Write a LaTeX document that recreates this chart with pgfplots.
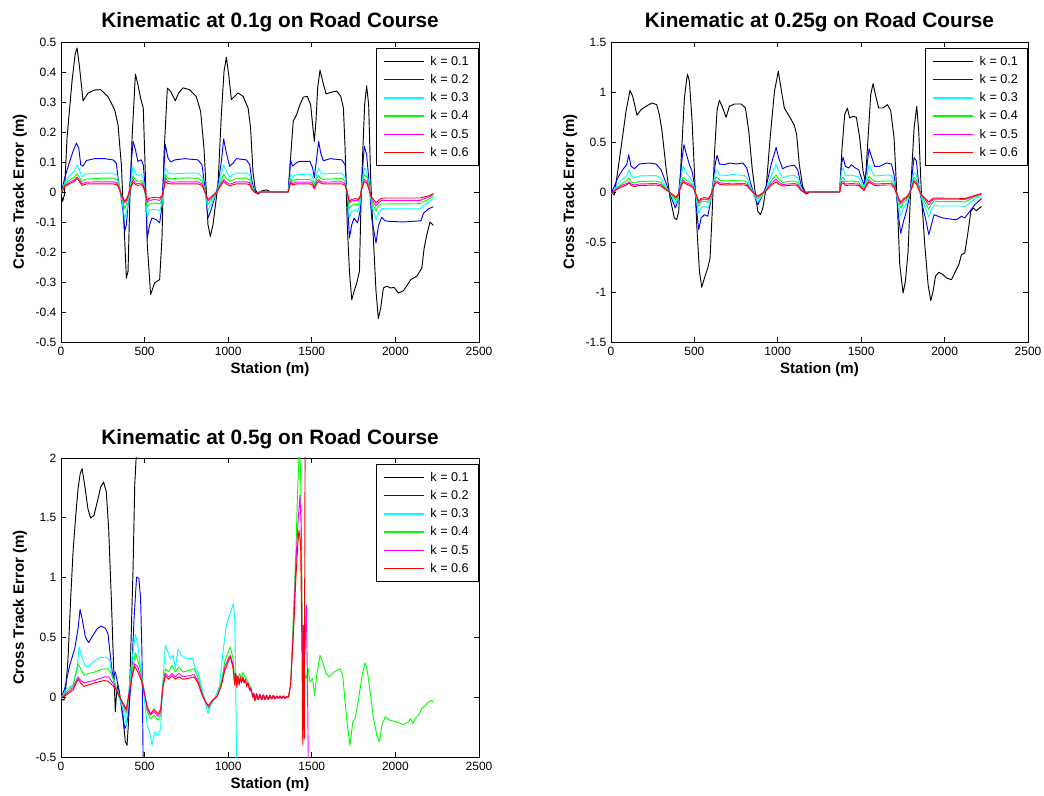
\documentclass[border=0pt]{standalone}
\usepackage{fontspec}
\setmainfont{Liberation Sans}
\usepackage{pgfplots}
\pgfplotsset{compat=1.18}

\definecolor{mblue}{rgb}{0,0,1}
\definecolor{mcyan}{rgb}{0,1,1}
\definecolor{mgreen}{rgb}{0,1,0}
\definecolor{mmag}{rgb}{1,0,1}
\definecolor{mred}{rgb}{1,0,0}

\pgfplotsset{
  mlab/.style={
    scale only axis,
    xmin=0, xmax=2500,
    xtick={0,500,1000,1500,2000,2500},
    xticklabels={0,500,1000,1500,2000,2500},
    tick align=inside,
    major tick length=3.5pt,
    axis line style={line width=0.6pt},
    every tick/.style={black, line width=0.6pt},
    tick label style={font=\fontsize{9}{10}\selectfont},
    scaled ticks=false,
    xlabel={Station (m)},
    ylabel={Cross Track Error (m)},
    every axis x label/.style={at={(axis description cs:0.5,-0.093)}, anchor=center,
      font=\bfseries\fontsize{11.3}{13}\selectfont},
    every axis y label/.style={at={(axis description cs:-0.098,0.5)}, rotate=90, anchor=center,
      font=\bfseries\fontsize{11.3}{13}\selectfont},
    every axis title/.style={at={(axis description cs:0.5,1)}, anchor=base, yshift=10.5pt,
      font=\bfseries\fontsize{15.6}{17}\selectfont},
    legend cell align=left,
    legend image code/.code={\draw[#1,line width=1.1pt] (0pt,0pt) -- (30pt,0pt);},
    legend style={at={(axis description cs:0.7536,0.979)}, anchor=north west,
      font=\fontsize{9.5}{10}\selectfont,
      inner xsep=5pt, inner ysep=3.5pt,
      row sep=1.3pt, column sep=2.5pt},
    every axis plot/.append style={line width=0.7pt, line join=round},
  }
}

\begin{document}
\begin{tikzpicture}
\useasboundingbox (0,0) rectangle (783pt,596.25pt);

% ---------------- 0.1g ----------------
\begin{axis}[mlab, at={(45.75pt,339.75pt)}, anchor=south west,
  width=313.5pt, height=225pt,
  ymin=-0.5, ymax=0.5,
  ytick={-0.5,-0.4,-0.3,-0.2,-0.1,0,0.1,0.2,0.3,0.4,0.5},
  yticklabels={-0.5,-0.4,-0.3,-0.2,-0.1,0,0.1,0.2,0.3,0.4,0.5},
  title={Kinematic at 0.1g on Road Course}]
\addplot[color=black] coordinates {(0,-0.005)(10,-0.031)(20,-0.01)(36,0.18)(66,0.37)(85,0.46)(96,0.48)(110,0.42)(132,0.304)(162,0.33)(201,0.34)(237,0.341)(281,0.318)(321,0.274)(341,0.224)(361,0.091)(377,-0.109)(391,-0.287)(401,-0.264)(411,-0.042)(425,0.18)(445,0.393)(460,0.358)(476,0.313)(492,0.28)(504,0.069)(516,-0.175)(536,-0.342)(560,-0.303)(590,-0.292)(604,-0.153)(616,0.124)(636,0.346)(656,0.335)(684,0.304)(703,0.33)(730,0.347)(769,0.341)(809,0.318)(835,0.269)(855,0.147)(869,0.002)(879,-0.109)(893,-0.148)(909,-0.109)(939,0.024)(959,0.258)(975,0.402)(989,0.449)(1003,0.391)(1019,0.308)(1039,0.319)(1059,0.33)(1089,0.319)(1119,0.28)(1134,0.213)(1148,0.069)(1162,0.008)(1178,-0.007)(1202,0.004)(1228,0.007)(1258,0)(1359,0)(1373,0.113)(1389,0.236)(1409,0.258)(1429,0.291)(1449,0.316)(1473,0.319)(1493,0.291)(1505,0.224)(1515,0.169)(1525,0.236)(1535,0.347)(1549,0.406)(1565,0.369)(1585,0.327)(1619,0.333)(1649,0.336)(1673,0.319)(1689,0.28)(1699,0.147)(1712,-0.109)(1725,-0.264)(1739,-0.359)(1753,-0.331)(1769,-0.303)(1785,-0.264)(1794,-0.042)(1804,0.124)(1816,0.291)(1828,0.354)(1840,0.291)(1852,0.047)(1868,-0.153)(1884,-0.331)(1898,-0.422)(1912,-0.387)(1928,-0.32)(1948,-0.314)(1972,-0.32)(1992,-0.318)(2018,-0.337)(2048,-0.329)(2072,-0.309)(2092,-0.292)(2128,-0.281)(2158,-0.253)(2172,-0.187)(2188,-0.142)(2207,-0.1)(2227,-0.111)};
\addlegendentry{k = 0.1}
\addplot[color=mblue] coordinates {(0,-0.005)(22,0.047)(52,0.102)(72,0.136)(92,0.163)(106,0.147)(118,0.091)(132,0.086)(152,0.105)(201,0.111)(261,0.111)(311,0.107)(331,0.096)(341,0.047)(357,-0.009)(371,-0.064)(381,-0.131)(391,-0.109)(401,-0.042)(411,0.024)(421,0.102)(431,0.169)(445,0.141)(460,0.102)(480,0.107)(492,0.091)(504,0.013)(516,-0.153)(530,-0.109)(544,-0.087)(570,-0.092)(590,-0.103)(600,-0.064)(612,0.047)(624,0.158)(640,0.113)(656,0.1)(680,0.107)(740,0.111)(819,0.107)(843,0.091)(859,0.024)(869,-0.031)(879,-0.087)(895,-0.064)(919,-0.02)(939,0.024)(959,0.102)(973,0.177)(989,0.13)(1009,0.086)(1029,0.096)(1049,0.111)(1109,0.107)(1129,0.091)(1142,0.036)(1158,0.002)(1178,-0.004)(1195,0)(1359,0)(1373,0.107)(1385,0.086)(1405,0.096)(1425,0.102)(1489,0.102)(1505,0.08)(1515,0.047)(1529,0.113)(1541,0.169)(1553,0.13)(1569,0.104)(1609,0.111)(1679,0.107)(1699,0.091)(1712,-0.02)(1725,-0.153)(1739,-0.109)(1753,-0.087)(1773,-0.103)(1789,-0.064)(1800,0.047)(1814,0.153)(1828,0.124)(1844,0.024)(1858,-0.087)(1884,-0.17)(1898,-0.114)(1918,-0.084)(1938,-0.096)(1968,-0.098)(2048,-0.1)(2152,-0.096)(2168,-0.071)(2198,-0.056)(2227,-0.049)};
\addlegendentry{k = 0.2}
\addplot[color=mcyan] coordinates {(0,-0.005)(22,0.03)(52,0.055)(80,0.07)(96,0.09)(110,0.075)(125,0.05)(150,0.06)(250,0.063)(310,0.063)(335,0.055)(350,0.02)(365,-0.03)(381,-0.09)(395,-0.06)(411,0.01)(431,0.085)(445,0.06)(460,0.055)(480,0.058)(492,0.045)(504,-0.01)(516,-0.085)(530,-0.06)(560,-0.058)(590,-0.062)(604,-0.04)(616,0.03)(624,0.08)(640,0.065)(660,0.06)(760,0.063)(820,0.063)(843,0.05)(859,0.01)(879,-0.06)(895,-0.045)(919,-0.015)(939,0.015)(959,0.06)(973,0.09)(989,0.07)(1009,0.05)(1029,0.058)(1049,0.063)(1110,0.063)(1129,0.055)(1142,0.02)(1158,0)(1170,-0.006)(1185,0)(1359,0)(1373,0.06)(1385,0.05)(1405,0.057)(1490,0.06)(1505,0.05)(1515,0.025)(1529,0.06)(1541,0.08)(1553,0.065)(1569,0.06)(1680,0.063)(1699,0.05)(1712,-0.01)(1725,-0.085)(1739,-0.065)(1760,-0.06)(1775,-0.065)(1789,-0.04)(1800,0.03)(1814,0.08)(1828,0.07)(1844,0.015)(1858,-0.045)(1884,-0.092)(1898,-0.07)(1918,-0.055)(1940,-0.056)(2150,-0.056)(2168,-0.045)(2198,-0.035)(2227,-0.02)};
\addlegendentry{k = 0.3}
\addplot[color=mgreen] coordinates {(0,-0.005)(22,0.025)(52,0.04)(80,0.05)(96,0.06)(110,0.05)(125,0.035)(150,0.043)(250,0.046)(310,0.046)(335,0.04)(350,0.015)(365,-0.02)(381,-0.055)(395,-0.035)(411,0.005)(431,0.055)(445,0.04)(460,0.035)(480,0.038)(492,0.03)(504,-0.005)(516,-0.05)(530,-0.04)(560,-0.036)(590,-0.04)(604,-0.025)(616,0.02)(624,0.058)(640,0.045)(660,0.045)(760,0.047)(820,0.046)(843,0.037)(859,0.008)(879,-0.04)(895,-0.03)(919,-0.01)(939,0.01)(959,0.04)(973,0.06)(989,0.045)(1009,0.035)(1029,0.04)(1049,0.046)(1110,0.046)(1129,0.04)(1142,0.015)(1158,0)(1170,-0.005)(1185,0)(1359,0)(1373,0.045)(1385,0.036)(1405,0.041)(1490,0.042)(1505,0.035)(1515,0.018)(1529,0.045)(1541,0.055)(1553,0.045)(1569,0.042)(1680,0.045)(1699,0.035)(1712,-0.005)(1725,-0.055)(1739,-0.045)(1760,-0.04)(1775,-0.045)(1789,-0.025)(1800,0.02)(1814,0.058)(1828,0.05)(1844,0.01)(1858,-0.03)(1884,-0.064)(1898,-0.048)(1918,-0.04)(1940,-0.04)(2150,-0.039)(2168,-0.032)(2198,-0.025)(2227,-0.013)};
\addlegendentry{k = 0.4}
\addplot[color=mmag] coordinates {(0,-0.005)(22,0.02)(52,0.033)(80,0.04)(96,0.05)(110,0.04)(125,0.027)(150,0.033)(250,0.034)(310,0.034)(335,0.03)(350,0.01)(365,-0.015)(381,-0.037)(395,-0.025)(411,0.005)(431,0.042)(445,0.03)(460,0.028)(480,0.03)(492,0.022)(504,-0.003)(516,-0.035)(530,-0.028)(560,-0.025)(590,-0.028)(604,-0.016)(616,0.015)(624,0.047)(640,0.035)(660,0.033)(760,0.034)(820,0.034)(843,0.027)(859,0.005)(879,-0.03)(895,-0.022)(919,-0.008)(939,0.008)(959,0.03)(973,0.042)(989,0.033)(1009,0.026)(1029,0.03)(1049,0.034)(1110,0.034)(1129,0.03)(1142,0.01)(1158,0)(1170,-0.004)(1185,0)(1359,0)(1373,0.036)(1385,0.028)(1405,0.033)(1490,0.033)(1505,0.028)(1515,0.012)(1529,0.035)(1541,0.042)(1553,0.035)(1569,0.033)(1680,0.034)(1699,0.027)(1712,-0.003)(1725,-0.037)(1739,-0.03)(1760,-0.028)(1775,-0.03)(1789,-0.018)(1800,0.015)(1814,0.042)(1828,0.037)(1844,0.007)(1858,-0.022)(1884,-0.047)(1898,-0.036)(1918,-0.028)(1940,-0.028)(2150,-0.028)(2168,-0.023)(2198,-0.018)(2227,-0.008)};
\addlegendentry{k = 0.5}
\addplot[color=mred] coordinates {(0,-0.005)(22,0.018)(52,0.028)(80,0.035)(96,0.045)(110,0.035)(125,0.022)(150,0.027)(250,0.027)(310,0.027)(335,0.024)(350,0.008)(365,-0.012)(381,-0.031)(395,-0.02)(411,0.003)(431,0.033)(445,0.025)(460,0.022)(480,0.024)(492,0.018)(504,-0.002)(516,-0.028)(530,-0.02)(560,-0.018)(590,-0.02)(604,-0.012)(616,0.012)(624,0.035)(640,0.028)(660,0.027)(760,0.027)(820,0.027)(843,0.022)(859,0.004)(879,-0.025)(895,-0.018)(919,-0.006)(939,0.006)(959,0.025)(973,0.035)(989,0.027)(1009,0.02)(1029,0.024)(1049,0.027)(1110,0.027)(1129,0.024)(1142,0.008)(1158,0)(1170,-0.004)(1185,0)(1359,0)(1373,0.03)(1385,0.024)(1405,0.027)(1490,0.027)(1505,0.022)(1515,0.01)(1529,0.028)(1541,0.035)(1553,0.03)(1569,0.027)(1680,0.027)(1699,0.022)(1712,-0.002)(1725,-0.03)(1739,-0.025)(1760,-0.022)(1775,-0.025)(1789,-0.014)(1800,0.012)(1814,0.035)(1828,0.03)(1844,0.005)(1858,-0.017)(1884,-0.036)(1898,-0.028)(1918,-0.021)(1940,-0.02)(2150,-0.02)(2168,-0.017)(2198,-0.013)(2227,-0.005)};
\addlegendentry{k = 0.6}
\end{axis}

% ---------------- 0.25g ----------------
\begin{axis}[mlab, at={(458.25pt,339.75pt)}, anchor=south west,
  width=312.75pt, height=225pt,
  ymin=-1.5, ymax=1.5,
  ytick={-1.5,-1,-0.5,0,0.5,1,1.5},
  yticklabels={-1.5,-1,-0.5,0,0.5,1,1.5},
  title={Kinematic at 0.25g on Road Course}]
\addplot[color=black] coordinates {(0,-0.01)(6,-0.01)(20,-0.03)(60,0.44)(90,0.807)(114,1.017)(130,0.957)(156,0.767)(180,0.823)(210,0.857)(246,0.89)(274,0.873)(290,0.773)(306,0.607)(330,0.24)(354,-0.06)(380,-0.26)(394,-0.277)(406,-0.193)(422,0.373)(440,0.94)(458,1.18)(470,1.107)(486,0.707)(500,0.207)(514,-0.327)(530,-0.793)(544,-0.953)(560,-0.86)(580,-0.76)(594,-0.66)(606,-0.227)(620,0.373)(636,0.823)(650,0.917)(666,0.857)(690,0.747)(710,0.857)(740,0.88)(780,0.88)(806,0.84)(826,0.607)(846,0.24)(866,-0.027)(880,-0.193)(896,-0.227)(910,-0.16)(930,0.04)(954,0.54)(980,1.007)(1003,1.207)(1019,1.04)(1039,0.84)(1069,0.757)(1099,0.667)(1113,0.573)(1129,0.273)(1149,0.057)(1169,-0.02)(1193,0)(1371,0)(1385,0.44)(1401,0.773)(1417,0.84)(1431,0.74)(1451,0.757)(1471,0.747)(1491,0.54)(1511,0.207)(1525,0.107)(1541,0.54)(1557,0.973)(1571,1.083)(1585,0.973)(1605,0.84)(1631,0.84)(1657,0.873)(1677,0.813)(1697,0.54)(1717,-0.127)(1731,-0.727)(1751,-1.01)(1765,-0.893)(1781,-0.593)(1797,0.04)(1817,0.64)(1833,0.857)(1845,0.607)(1861,-0.027)(1881,-0.527)(1901,-0.927)(1917,-1.087)(1931,-0.993)(1945,-0.843)(1965,-0.803)(1991,-0.827)(2011,-0.86)(2041,-0.877)(2065,-0.793)(2085,-0.727)(2101,-0.627)(2121,-0.61)(2141,-0.393)(2157,-0.193)(2171,-0.16)(2191,-0.187)(2221,-0.143)};
\addlegendentry{k = 0.1}
\addplot[color=mblue] coordinates {(0,-0.01)(6,0)(40,0.14)(70,0.223)(94,0.273)(106,0.373)(120,0.257)(140,0.233)(170,0.28)(230,0.29)(270,0.28)(300,0.223)(326,0.107)(350,0)(370,-0.093)(386,-0.16)(400,-0.093)(414,0.14)(430,0.39)(438,0.473)(450,0.39)(470,0.273)(486,0.207)(500,0.073)(514,-0.193)(526,-0.377)(540,-0.26)(560,-0.227)(580,-0.243)(594,-0.127)(610,0.073)(626,0.29)(636,0.367)(650,0.28)(680,0.273)(710,0.29)(750,0.28)(790,0.29)(814,0.24)(834,0.107)(860,-0.043)(880,-0.127)(900,-0.06)(930,0.057)(960,0.273)(980,0.39)(990,0.447)(1005,0.34)(1029,0.233)(1059,0.257)(1099,0.267)(1119,0.223)(1139,0.073)(1159,0)(1179,-0.01)(1195,0)(1371,0)(1381,0.273)(1391,0.347)(1405,0.257)(1425,0.24)(1441,0.273)(1465,0.24)(1485,0.223)(1501,0.14)(1517,0.073)(1531,0.207)(1547,0.433)(1561,0.357)(1581,0.257)(1611,0.257)(1651,0.29)(1681,0.28)(1697,0.173)(1711,-0.027)(1725,-0.26)(1737,-0.413)(1751,-0.31)(1771,-0.193)(1791,-0.027)(1805,0.173)(1817,0.347)(1831,0.307)(1845,0.073)(1865,-0.127)(1885,-0.26)(1905,-0.427)(1921,-0.327)(1937,-0.227)(1961,-0.243)(1991,-0.26)(2031,-0.27)(2071,-0.277)(2101,-0.243)(2121,-0.26)(2151,-0.193)(2181,-0.127)(2221,-0.067)};
\addlegendentry{k = 0.2}
\addplot[color=mcyan] coordinates {(0,-0.02)(20,0.02)(40,0.08)(70,0.13)(94,0.16)(108,0.22)(122,0.16)(140,0.14)(170,0.16)(270,0.165)(300,0.14)(326,0.06)(350,0)(370,-0.06)(388,-0.12)(402,-0.06)(414,0.08)(432,0.26)(450,0.2)(470,0.15)(490,0.1)(500,0.04)(514,-0.1)(526,-0.22)(540,-0.16)(560,-0.14)(582,-0.16)(596,-0.09)(610,0.05)(626,0.2)(636,0.22)(652,0.17)(700,0.165)(720,0.175)(800,0.165)(816,0.14)(834,0.06)(860,-0.04)(880,-0.1)(900,-0.05)(930,0.03)(960,0.16)(990,0.28)(1005,0.21)(1029,0.14)(1060,0.16)(1100,0.165)(1119,0.14)(1139,0.04)(1160,-0.01)(1185,0)(1371,0)(1381,0.2)(1391,0.24)(1405,0.16)(1441,0.17)(1485,0.15)(1501,0.09)(1517,0.04)(1531,0.13)(1547,0.27)(1561,0.22)(1581,0.16)(1651,0.17)(1681,0.165)(1697,0.1)(1711,-0.02)(1725,-0.15)(1737,-0.24)(1751,-0.17)(1771,-0.12)(1791,-0.02)(1805,0.1)(1817,0.2)(1831,0.17)(1845,0.05)(1865,-0.08)(1885,-0.16)(1905,-0.25)(1921,-0.18)(1937,-0.13)(1961,-0.14)(2100,-0.14)(2121,-0.145)(2151,-0.11)(2181,-0.07)(2221,-0.03)};
\addlegendentry{k = 0.3}
\addplot[color=mgreen] coordinates {(0,-0.02)(20,0.01)(40,0.05)(70,0.09)(94,0.11)(108,0.14)(122,0.1)(140,0.09)(170,0.105)(270,0.11)(300,0.095)(326,0.04)(350,0)(370,-0.04)(388,-0.08)(402,-0.04)(414,0.05)(432,0.15)(450,0.12)(470,0.1)(490,0.07)(500,0.03)(514,-0.07)(526,-0.14)(540,-0.1)(560,-0.09)(582,-0.105)(596,-0.06)(610,0.03)(626,0.14)(636,0.15)(652,0.115)(700,0.11)(720,0.115)(800,0.11)(816,0.095)(834,0.04)(860,-0.025)(880,-0.07)(900,-0.035)(930,0.02)(960,0.11)(990,0.17)(1005,0.13)(1029,0.095)(1060,0.105)(1100,0.11)(1119,0.095)(1139,0.03)(1160,-0.01)(1185,0)(1371,0)(1381,0.13)(1391,0.15)(1405,0.105)(1441,0.11)(1485,0.1)(1501,0.06)(1517,0.03)(1531,0.09)(1547,0.16)(1561,0.13)(1581,0.105)(1651,0.11)(1681,0.11)(1697,0.07)(1711,-0.01)(1725,-0.1)(1737,-0.16)(1751,-0.11)(1771,-0.08)(1791,-0.01)(1805,0.07)(1817,0.15)(1831,0.12)(1845,0.035)(1865,-0.055)(1885,-0.11)(1905,-0.17)(1921,-0.12)(1937,-0.09)(1961,-0.095)(2100,-0.097)(2121,-0.1)(2151,-0.075)(2181,-0.05)(2221,-0.025)};
\addlegendentry{k = 0.4}
\addplot[color=mmag] coordinates {(0,-0.01)(20,0.01)(40,0.04)(70,0.07)(94,0.085)(108,0.1)(122,0.08)(140,0.07)(170,0.08)(270,0.085)(300,0.075)(326,0.03)(350,0)(370,-0.03)(388,-0.06)(402,-0.03)(414,0.04)(432,0.12)(450,0.095)(470,0.08)(490,0.055)(500,0.02)(514,-0.05)(526,-0.11)(540,-0.08)(560,-0.07)(582,-0.08)(596,-0.045)(610,0.025)(626,0.11)(636,0.11)(652,0.09)(700,0.085)(720,0.088)(800,0.085)(816,0.075)(834,0.03)(860,-0.02)(880,-0.05)(900,-0.025)(930,0.015)(960,0.085)(990,0.13)(1005,0.1)(1029,0.075)(1060,0.08)(1100,0.085)(1119,0.075)(1139,0.02)(1160,-0.005)(1185,0)(1371,0)(1381,0.1)(1391,0.11)(1405,0.08)(1441,0.085)(1485,0.08)(1501,0.045)(1517,0.02)(1531,0.07)(1547,0.12)(1561,0.1)(1581,0.08)(1651,0.085)(1681,0.085)(1697,0.055)(1711,-0.01)(1725,-0.08)(1737,-0.12)(1751,-0.085)(1771,-0.06)(1791,-0.01)(1805,0.055)(1817,0.12)(1831,0.09)(1845,0.03)(1865,-0.04)(1885,-0.08)(1905,-0.13)(1921,-0.09)(1937,-0.07)(1961,-0.072)(2100,-0.073)(2121,-0.075)(2151,-0.06)(2181,-0.04)(2221,-0.02)};
\addlegendentry{k = 0.5}
\addplot[color=mred] coordinates {(0,-0.01)(20,0.01)(40,0.03)(70,0.055)(94,0.07)(108,0.09)(122,0.065)(140,0.055)(170,0.065)(270,0.07)(300,0.06)(326,0.025)(350,0)(370,-0.025)(388,-0.05)(402,-0.025)(414,0.03)(432,0.1)(450,0.08)(470,0.065)(490,0.045)(500,0.015)(514,-0.04)(526,-0.09)(540,-0.065)(560,-0.055)(582,-0.065)(596,-0.035)(610,0.02)(626,0.09)(636,0.095)(652,0.075)(700,0.07)(720,0.072)(800,0.07)(816,0.06)(834,0.025)(860,-0.015)(880,-0.04)(900,-0.02)(930,0.012)(960,0.07)(990,0.1)(1005,0.08)(1029,0.06)(1060,0.065)(1100,0.07)(1119,0.06)(1139,0.015)(1160,-0.005)(1185,0)(1371,0)(1381,0.08)(1391,0.09)(1405,0.065)(1441,0.07)(1485,0.065)(1501,0.04)(1517,0.015)(1531,0.06)(1547,0.1)(1561,0.085)(1581,0.065)(1651,0.07)(1681,0.07)(1697,0.045)(1711,-0.005)(1725,-0.065)(1737,-0.1)(1751,-0.07)(1771,-0.05)(1791,-0.005)(1805,0.045)(1817,0.1)(1831,0.08)(1845,0.02)(1865,-0.035)(1885,-0.065)(1905,-0.1)(1921,-0.075)(1937,-0.06)(1961,-0.062)(2100,-0.063)(2121,-0.065)(2151,-0.05)(2181,-0.035)(2221,-0.015)};
\addlegendentry{k = 0.6}
\end{axis}

% ---------------- 0.5g ----------------
\begin{axis}[mlab, at={(45.75pt,28.5pt)}, anchor=south west,
  width=313.5pt, height=224.25pt,
  ymin=-0.5, ymax=2,
  ytick={-0.5,0,0.5,1,1.5,2},
  yticklabels={-0.5,0,0.5,1,1.5,2},
  title={Kinematic at 0.5g on Road Course}]
\addplot[color=black] coordinates {(0,-0.012)(18,-0.026)(30,0.1)(42,0.323)(57,0.8)(72,1.214)(87,1.5)(102,1.744)(115,1.87)(126,1.911)(142,1.771)(161,1.576)(177,1.498)(197,1.52)(217,1.632)(237,1.757)(255,1.799)(271,1.716)(285,1.41)(301,0.824)(313,0.323)(325,-0.123)(333,0.05)(341,0.1)(357,-0.026)(371,-0.179)(385,-0.374)(395,-0.402)(405,-0.179)(417,0.378)(431,1.075)(441,1.771)(449,1.994)(456,2.6)};
\addlegendentry{k = 0.1}
\addplot[color=mblue] coordinates {(0,-0.012)(22,0.071)(52,0.266)(82,0.406)(102,0.573)(114,0.735)(126,0.657)(146,0.503)(165,0.456)(191,0.517)(217,0.573)(241,0.595)(265,0.578)(281,0.531)(297,0.323)(311,0.155)(325,0.211)(341,0.1)(361,-0.068)(381,-0.263)(391,-0.235)(405,-0.123)(421,0.155)(437,0.657)(452,1.005)(466,0.991)(476,0.824)(484,0.378)(488,-0.123)(491,-0.5)(494,-0.8)};
\addlegendentry{k = 0.2}
\addplot[color=mcyan] coordinates {(0,-0.01)(32,0.07)(72,0.1)(98,0.266)(108,0.42)(122,0.35)(142,0.266)(161,0.252)(191,0.294)(231,0.33)(271,0.336)(291,0.308)(305,0.183)(321,0.127)(341,0.016)(371,-0.095)(391,-0.235)(405,0.044)(425,0.323)(445,0.526)(460,0.434)(476,0.238)(496,0.016)(516,-0.235)(532,-0.305)(544,-0.402)(560,-0.291)(580,-0.319)(596,-0.263)(608,0.1)(624,0.434)(640,0.378)(656,0.323)(670,0.35)(684,0.238)(700,0.406)(720,0.35)(750,0.323)(789,0.323)(803,0.238)(819,0.211)(839,0.1)(859,-0.026)(879,-0.137)(895,-0.068)(919,-0.012)(949,0.1)(969,0.378)(989,0.601)(1015,0.713)(1031,0.783)(1039,0.657)(1045,0.1)(1050,-0.5)(1054,-0.8)};
\addlegendentry{k = 0.3}
\addplot[color=mgreen] coordinates {(0,-0.01)(32,0.044)(72,0.1)(92,0.211)(102,0.28)(118,0.238)(138,0.183)(161,0.197)(201,0.211)(241,0.233)(281,0.238)(297,0.211)(317,0.127)(341,0.044)(371,-0.068)(391,-0.137)(405,0.016)(425,0.211)(445,0.37)(460,0.308)(480,0.197)(496,0.071)(516,-0.123)(536,-0.179)(556,-0.151)(580,-0.193)(596,-0.151)(608,0.1)(624,0.238)(644,0.211)(664,0.266)(684,0.211)(704,0.252)(730,0.211)(769,0.224)(795,0.238)(819,0.169)(843,0.044)(869,-0.054)(883,-0.095)(903,-0.04)(935,0.016)(959,0.127)(979,0.294)(999,0.378)(1013,0.42)(1029,0.323)(1039,0.155)(1049,0.183)(1058,0.15)(1069,0.197)(1078,0.16)(1089,0.211)(1098,0.17)(1109,0.155)(1118,0.13)(1128,0.1)(1138,0.06)(1148,0.016)(1160,-0.03)(1170,0.03)(1180,-0.02)(1190,0.02)(1200,-0.02)(1210,0.02)(1220,-0.02)(1230,0.015)(1240,-0.02)(1250,0.015)(1260,-0.015)(1270,0.015)(1280,-0.015)(1290,0.01)(1300,-0.01)(1310,0.01)(1320,-0.01)(1330,0.01)(1340,-0.01)(1350,0.005)(1359,0)(1373,0.098)(1381,0.378)(1393,0.797)(1405,1.215)(1413,1.632)(1421,1.94)(1425,2.1)(1433,1.88)(1439,1.215)(1445,0.238)(1453,0.211)(1465,0.155)(1479,0.238)(1489,0.127)(1505,0.155)(1517,0.016)(1529,0.183)(1549,0.35)(1565,0.294)(1585,0.197)(1605,0.169)(1633,0.211)(1669,0.238)(1685,0.183)(1699,-0.04)(1713,-0.235)(1729,-0.402)(1745,-0.207)(1759,-0.179)(1773,-0.068)(1789,0.071)(1805,0.211)(1819,0.289)(1833,0.211)(1849,0.044)(1869,-0.179)(1889,-0.319)(1905,-0.374)(1919,-0.235)(1939,-0.165)(1968,-0.193)(2008,-0.207)(2048,-0.229)(2078,-0.207)(2092,-0.179)(2104,-0.221)(2118,-0.179)(2138,-0.151)(2158,-0.095)(2178,-0.068)(2198,-0.04)(2218,-0.026)(2227,-0.04)};
\addlegendentry{k = 0.4}
\addplot[color=mmag] coordinates {(0,-0.01)(32,0.03)(72,0.08)(102,0.17)(118,0.14)(138,0.12)(200,0.14)(260,0.17)(285,0.17)(300,0.14)(320,0.1)(341,0.03)(371,-0.06)(391,-0.11)(405,0.02)(425,0.18)(441,0.28)(460,0.25)(480,0.16)(496,0.06)(516,-0.1)(536,-0.15)(556,-0.12)(580,-0.16)(596,-0.12)(608,0.08)(624,0.2)(644,0.17)(664,0.2)(684,0.17)(704,0.2)(730,0.17)(769,0.18)(795,0.19)(819,0.14)(843,0.03)(869,-0.05)(883,-0.08)(903,-0.03)(935,0.01)(959,0.1)(979,0.25)(1003,0.33)(1013,0.35)(1029,0.27)(1039,0.12)(1045,0.19)(1052,0.1)(1058,0.17)(1065,0.12)(1072,0.17)(1080,0.13)(1088,0.16)(1095,0.12)(1103,0.15)(1110,0.1)(1118,0.12)(1128,0.06)(1138,0.05)(1148,0.0)(1155,0.03)(1163,-0.025)(1172,0.025)(1182,-0.02)(1192,0.02)(1202,-0.02)(1212,0.02)(1222,-0.02)(1232,0.015)(1242,-0.015)(1252,0.015)(1262,-0.015)(1272,0.012)(1282,-0.012)(1292,0.01)(1302,-0.01)(1312,0.01)(1322,-0.01)(1332,0.01)(1342,-0.01)(1352,0.005)(1362,0)(1373,0.1)(1389,0.546)(1405,1.13)(1419,1.493)(1429,1.688)(1435,1.49)(1441,0.657)(1447,0.24)(1459,0.38)(1467,0.77)(1473,0.24)(1479,-0.51)(1482,-0.8)};
\addlegendentry{k = 0.5}
\addplot[color=mred] coordinates {(0,-0.01)(32,0.02)(72,0.06)(102,0.15)(118,0.12)(138,0.09)(200,0.12)(260,0.14)(285,0.13)(300,0.11)(320,0.08)(341,0.03)(371,-0.05)(391,-0.1)(405,0.01)(425,0.17)(441,0.26)(460,0.21)(480,0.14)(496,0.05)(516,-0.08)(536,-0.14)(556,-0.1)(580,-0.14)(596,-0.1)(608,0.07)(624,0.18)(644,0.15)(664,0.18)(684,0.15)(704,0.17)(730,0.15)(769,0.16)(795,0.17)(819,0.12)(843,0.02)(869,-0.05)(883,-0.07)(903,-0.03)(935,0.01)(959,0.1)(979,0.22)(1003,0.31)(1013,0.34)(1029,0.24)(1039,0.1)(1045,0.2)(1052,0.08)(1058,0.18)(1065,0.1)(1072,0.16)(1080,0.12)(1088,0.17)(1095,0.12)(1103,0.15)(1110,0.09)(1118,0.12)(1128,0.06)(1135,0.08)(1148,0.0)(1152,0.03)(1160,-0.03)(1168,0.03)(1178,-0.02)(1188,0.025)(1198,-0.02)(1208,0.02)(1218,-0.02)(1228,0.015)(1238,-0.02)(1248,0.015)(1258,-0.015)(1268,0.015)(1278,-0.015)(1288,0.01)(1298,-0.01)(1308,0.01)(1318,-0.01)(1328,0.01)(1338,-0.01)(1348,0.005)(1360,0)(1373,0.1)(1389,0.5)(1405,1.0)(1415,1.25)(1423,1.395)(1433,1.3)(1441,0.4)(1446,-0.4)(1450,0.6)(1455,-0.35)(1458,1.2)(1461,2.6)};
\addlegendentry{k = 0.6}
\end{axis}
\end{tikzpicture}
\end{document}
